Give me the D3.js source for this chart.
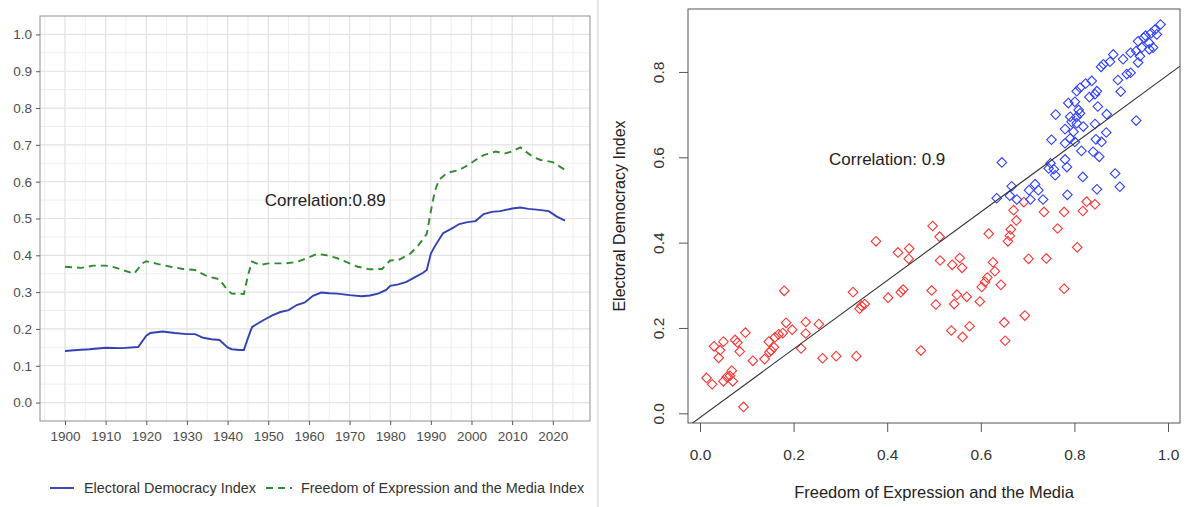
<!DOCTYPE html>
<html>
<head>
<meta charset="utf-8">
<script src="https://cdn.jsdelivr.net/npm/d3@7"></script>
<style>
  body { margin: 0; background: #fff; }
  text { font-family: "Liberation Sans", Arial, sans-serif; }
</style>
</head>
<body>
<div id="chart"></div>
<script>
// ---- Left chart data (V-Dem style world averages) ----
const years = [1900, 1903, 1906, 1910, 1914, 1918, 1920, 1921, 1924, 1927, 1930, 1932, 1934, 1936, 1938,
               1940, 1941, 1943, 1944, 1945, 1946, 1947, 1949, 1951, 1953, 1955, 1957, 1959, 1961, 1963,
               1965, 1967, 1970, 1973, 1975, 1977, 1979, 1980, 1982, 1984, 1986, 1988, 1989, 1990, 1991,
               1993, 1995, 1997, 1999, 2001, 2003, 2005, 2007, 2010, 2012, 2014, 2016, 2019, 2021, 2023];
const electoralDemocracy = [0.140, 0.143, 0.145, 0.149, 0.148, 0.151, 0.182, 0.189, 0.193, 0.189, 0.186, 0.186, 0.176, 0.172, 0.170,
               0.150, 0.145, 0.143, 0.143, 0.175, 0.205, 0.212, 0.225, 0.237, 0.246, 0.251, 0.265, 0.272, 0.290, 0.299,
               0.297, 0.296, 0.292, 0.289, 0.291, 0.296, 0.306, 0.317, 0.321, 0.328, 0.340, 0.352, 0.360, 0.405, 0.425,
               0.460, 0.472, 0.485, 0.490, 0.493, 0.512, 0.518, 0.520, 0.527, 0.530, 0.526, 0.524, 0.520, 0.505, 0.494];

const freeYears = [1900, 1904, 1907, 1910, 1912, 1915, 1917, 1919, 1920, 1923, 1926, 1929, 1932, 1935, 1938,
                   1940, 1941, 1944, 1945, 1946, 1948, 1950, 1954, 1957, 1959, 1962, 1964, 1967, 1970, 1972,
                   1975, 1978, 1980, 1982, 1985, 1987, 1989, 1990, 1991, 1992, 1994, 1997, 1999, 2001, 2003,
                   2006, 2008, 2010, 2012, 2015, 2017, 2020, 2023];
const freedomExpression = [0.369, 0.366, 0.372, 0.372, 0.368, 0.357, 0.350, 0.378, 0.384, 0.376, 0.369, 0.363, 0.360, 0.343, 0.335,
                   0.305, 0.296, 0.295, 0.345, 0.383, 0.374, 0.378, 0.378, 0.382, 0.390, 0.404, 0.401, 0.392, 0.378, 0.369,
                   0.362, 0.363, 0.386, 0.387, 0.405, 0.428, 0.458, 0.520, 0.575, 0.605, 0.624, 0.632, 0.644, 0.659, 0.672,
                   0.682, 0.676, 0.682, 0.693, 0.668, 0.659, 0.653, 0.632];

const yearTicks = [1900, 1910, 1920, 1930, 1940, 1950, 1960, 1970, 1980, 1990, 2000, 2010, 2020];
const indexTicks = [0, 0.1, 0.2, 0.3, 0.4, 0.5, 0.6, 0.7, 0.8, 0.9, 1.0];
const seriesNames = ["Electoral Democracy Index", "Freedom of Expression and the Media Index"];
const leftCorrelation = "Correlation:0.89";

// ---- Right chart data (countries) ----
const redPoints = [
  [0.014, 0.083], [0.026, 0.068], [0.030, 0.157], [0.043, 0.148], [0.040, 0.130], [0.050, 0.168],
  [0.050, 0.075], [0.057, 0.085], [0.064, 0.088], [0.068, 0.100], [0.070, 0.075], [0.075, 0.172],
  [0.080, 0.166], [0.085, 0.145], [0.093, 0.015], [0.097, 0.189], [0.113, 0.123], [0.138, 0.127],
  [0.147, 0.168], [0.148, 0.143], [0.152, 0.147], [0.158, 0.155], [0.160, 0.178], [0.168, 0.185],
  [0.177, 0.188], [0.184, 0.212], [0.180, 0.287], [0.197, 0.196], [0.216, 0.152], [0.226, 0.187],
  [0.226, 0.214], [0.254, 0.209], [0.262, 0.129], [0.291, 0.134], [0.334, 0.134], [0.327, 0.284],
  [0.341, 0.245], [0.345, 0.252], [0.352, 0.256], [0.376, 0.403], [0.402, 0.271], [0.423, 0.377],
  [0.429, 0.284], [0.434, 0.290], [0.447, 0.386], [0.446, 0.362], [0.472, 0.147], [0.497, 0.439],
  [0.495, 0.288], [0.504, 0.255], [0.512, 0.414], [0.513, 0.358], [0.537, 0.194], [0.539, 0.348],
  [0.543, 0.256], [0.549, 0.278], [0.555, 0.364], [0.560, 0.341], [0.561, 0.179], [0.570, 0.273],
  [0.576, 0.204], [0.598, 0.262], [0.602, 0.296], [0.609, 0.308], [0.614, 0.318], [0.617, 0.421],
  [0.626, 0.354], [0.630, 0.333], [0.643, 0.301], [0.650, 0.213], [0.652, 0.170], [0.658, 0.403],
  [0.662, 0.416], [0.664, 0.431], [0.670, 0.476], [0.676, 0.452], [0.692, 0.495], [0.694, 0.229],
  [0.702, 0.362], [0.735, 0.472], [0.740, 0.363], [0.764, 0.433], [0.778, 0.472], [0.778, 0.292],
  [0.806, 0.389], [0.818, 0.474], [0.826, 0.496], [0.844, 0.490]
];
const bluePoints = [
  [0.634, 0.504], [0.645, 0.588], [0.662, 0.510], [0.666, 0.532], [0.677, 0.501], [0.703, 0.523],
  [0.706, 0.501], [0.716, 0.537], [0.723, 0.523], [0.733, 0.501], [0.749, 0.586], [0.745, 0.574],
  [0.756, 0.572], [0.759, 0.558], [0.751, 0.641], [0.760, 0.700], [0.780, 0.666], [0.780, 0.633],
  [0.780, 0.595], [0.784, 0.577], [0.785, 0.512], [0.787, 0.727], [0.791, 0.695], [0.791, 0.644],
  [0.794, 0.683], [0.798, 0.660], [0.801, 0.730], [0.801, 0.636], [0.805, 0.755], [0.805, 0.695],
  [0.805, 0.680], [0.809, 0.711], [0.812, 0.763], [0.812, 0.703], [0.815, 0.615], [0.818, 0.554],
  [0.819, 0.672], [0.824, 0.773], [0.832, 0.741], [0.837, 0.779], [0.840, 0.613], [0.844, 0.748],
  [0.844, 0.678], [0.846, 0.642], [0.848, 0.755], [0.848, 0.525], [0.850, 0.719], [0.853, 0.601],
  [0.857, 0.812], [0.858, 0.636], [0.862, 0.818], [0.868, 0.658], [0.869, 0.701], [0.876, 0.824],
  [0.883, 0.841], [0.887, 0.562], [0.893, 0.781], [0.897, 0.531], [0.899, 0.754], [0.904, 0.830],
  [0.912, 0.795], [0.920, 0.845], [0.920, 0.798], [0.932, 0.849], [0.932, 0.686], [0.936, 0.872],
  [0.936, 0.822], [0.940, 0.837], [0.944, 0.857], [0.948, 0.880], [0.952, 0.885], [0.960, 0.868],
  [0.960, 0.853], [0.964, 0.891], [0.968, 0.857], [0.972, 0.899], [0.976, 0.888], [0.984, 0.911]
];
const fitIntercept = -0.010;
const fitSlope = 0.803;
const scatterXTicks = [0, 0.2, 0.4, 0.6, 0.8, 1.0];
const scatterYTicks = [0, 0.2, 0.4, 0.6, 0.8];
const rightCorrelation = "Correlation: 0.9";
const xTitle = "Freedom of Expression and the Media";
const yTitle = "Electoral Democracy Index";

const svg = d3.select("#chart").append("svg")
    .attr("width", 1188)
    .attr("height", 507);

// =================== LEFT: line chart ===================
const L = { left: 40, right: 590, top: 16, bottom: 421 };

const x = d3.scaleLinear().domain([1893.85, 2029.15]).range([L.left, L.right]);
const y = d3.scaleLinear().domain([-0.05, 1.05]).range([L.bottom, L.top]);

const left = svg.append("g");

// minor grid
left.selectAll(".vminor").data(d3.range(1895, 2030, 10)).enter().append("line")
    .attr("x1", d => x(d)).attr("x2", d => x(d))
    .attr("y1", L.top).attr("y2", L.bottom)
    .attr("stroke", "#efefef").attr("stroke-width", 1);
left.selectAll(".hminor").data(d3.range(0.05, 1.0, 0.1)).enter().append("line")
    .attr("x1", L.left).attr("x2", L.right)
    .attr("y1", d => y(d)).attr("y2", d => y(d))
    .attr("stroke", "#efefef").attr("stroke-width", 1);
// major grid
left.selectAll(".vmajor").data(yearTicks).enter().append("line")
    .attr("x1", d => x(d)).attr("x2", d => x(d))
    .attr("y1", L.top).attr("y2", L.bottom)
    .attr("stroke", "#e2e2e2").attr("stroke-width", 1.2);
left.selectAll(".hmajor").data(indexTicks).enter().append("line")
    .attr("x1", L.left).attr("x2", L.right)
    .attr("y1", d => y(d)).attr("y2", d => y(d))
    .attr("stroke", "#e2e2e2").attr("stroke-width", 1.2);

// panel border
left.append("rect")
    .attr("x", L.left).attr("y", L.top)
    .attr("width", L.right - L.left).attr("height", L.bottom - L.top)
    .attr("fill", "none").attr("stroke", "#8f8f8f").attr("stroke-width", 1);

// axes
const xAxisL = left.append("g")
    .attr("transform", "translate(0," + L.bottom + ")")
    .call(d3.axisBottom(x).tickValues(yearTicks).tickFormat(d3.format("d")).tickSize(4).tickPadding(6));
const yAxisL = left.append("g")
    .attr("transform", "translate(" + L.left + ",0)")
    .call(d3.axisLeft(y).tickValues(indexTicks).tickFormat(d3.format(".1f")).tickSize(4).tickPadding(4));
[xAxisL, yAxisL].forEach(g => {
    g.select(".domain").remove();
    g.selectAll(".tick line").attr("stroke", "#555");
    g.selectAll(".tick text").attr("fill", "#4d4d4d").style("font-size", "13.5px");
});

// lines
const edLine = d3.line()
    .x((d, i) => x(years[i]))
    .y(d => y(d));
const feLine = d3.line()
    .x((d, i) => x(freeYears[i]))
    .y(d => y(d));

left.append("path")
    .attr("d", feLine(freedomExpression))
    .attr("fill", "none")
    .attr("stroke", "#2e8b2e")
    .attr("stroke-width", 1.9)
    .attr("stroke-dasharray", "7,5");

left.append("path")
    .attr("d", edLine(electoralDemocracy))
    .attr("fill", "none")
    .attr("stroke", "#3341b3")
    .attr("stroke-width", 1.9);

left.append("text")
    .attr("x", x(1964)).attr("y", y(0.55))
    .attr("dy", "0.35em")
    .attr("text-anchor", "middle")
    .attr("fill", "#222")
    .style("font-size", "17px")
    .text(leftCorrelation);

// legend
const legend = left.append("g").attr("transform", "translate(0,488)");
legend.append("line")
    .attr("x1", 50).attr("x2", 74).attr("y1", 0).attr("y2", 0)
    .attr("stroke", "#3341b3").attr("stroke-width", 1.9);
legend.append("text")
    .attr("x", 84).attr("dy", "0.35em")
    .attr("fill", "#333").style("font-size", "14.4px")
    .text(seriesNames[0]);
legend.append("line")
    .attr("x1", 266).attr("x2", 292).attr("y1", 0).attr("y2", 0)
    .attr("stroke", "#2e8b2e").attr("stroke-width", 1.9)
    .attr("stroke-dasharray", "7,5");
legend.append("text")
    .attr("x", 301).attr("dy", "0.35em")
    .attr("fill", "#333").style("font-size", "14.4px")
    .text(seriesNames[1]);

// divider between the two panels
svg.append("line")
    .attr("x1", 598).attr("x2", 598).attr("y1", 0).attr("y2", 507)
    .attr("stroke", "#d0d0d0").attr("stroke-width", 1);

// =================== RIGHT: scatter ===================
const R = { left: 688, right: 1180, top: 9, bottom: 423 };
const sx = d3.scaleLinear().domain([-0.0256, 1.0256]).range([R.left, R.right]);
const sy = d3.scaleLinear().domain([-0.0227, 0.9475]).range([R.bottom, R.top]);

const right = svg.append("g");

right.append("clipPath").attr("id", "plotclip")
    .append("rect")
    .attr("x", R.left).attr("y", R.top)
    .attr("width", R.right - R.left).attr("height", R.bottom - R.top);

// points
const diamond = d3.symbol().type(d3.symbolSquare).size(46);
right.selectAll(".red").data(redPoints).enter().append("path")
    .attr("d", diamond)
    .attr("transform", d => `translate(${sx(d[0])},${sy(d[1])}) rotate(45)`)
    .attr("fill", "none")
    .attr("stroke", "#ff3535")
    .attr("stroke-width", 1.1);
right.selectAll(".blue").data(bluePoints).enter().append("path")
    .attr("d", diamond)
    .attr("transform", d => `translate(${sx(d[0])},${sy(d[1])}) rotate(45)`)
    .attr("fill", "none")
    .attr("stroke", "#3040ff")
    .attr("stroke-width", 1.1);

// regression line
const fitX = sx.domain();
right.append("line")
    .attr("clip-path", "url(#plotclip)")
    .attr("x1", sx(fitX[0])).attr("y1", sy(fitIntercept + fitSlope * fitX[0]))
    .attr("x2", sx(fitX[1])).attr("y2", sy(fitIntercept + fitSlope * fitX[1]))
    .attr("stroke", "#333").attr("stroke-width", 1.1);

// box
right.append("rect")
    .attr("x", R.left).attr("y", R.top)
    .attr("width", R.right - R.left).attr("height", R.bottom - R.top)
    .attr("fill", "none").attr("stroke", "#555").attr("stroke-width", 1);

// axes
const xAxisR = right.append("g")
    .attr("transform", "translate(0," + R.bottom + ")")
    .call(d3.axisBottom(sx).tickValues(scatterXTicks).tickFormat(d3.format(".1f")).tickSize(9).tickPadding(17));
const yAxisR = right.append("g")
    .attr("transform", "translate(" + R.left + ",0)")
    .call(d3.axisLeft(sy).tickValues(scatterYTicks).tickFormat(d3.format(".1f")).tickSize(9));
[xAxisR, yAxisR].forEach(g => {
    g.select(".domain").remove();
    g.selectAll(".tick line").attr("stroke", "#555");
    g.selectAll(".tick text").attr("fill", "#333").style("font-size", "15.5px");
});
yAxisR.selectAll(".tick text")
    .attr("x", null)
    .attr("dy", "0.35em")
    .attr("text-anchor", "middle")
    .attr("transform", "translate(-29,0) rotate(-90)");

// titles
right.append("text")
    .attr("x", (R.left + R.right) / 2).attr("y", 498)
    .attr("text-anchor", "middle")
    .attr("fill", "#222").style("font-size", "16.5px")
    .text(xTitle);
right.append("text")
    .attr("transform", `translate(619,${(R.top + R.bottom) / 2}) rotate(-90)`)
    .attr("dy", "0.35em")
    .attr("text-anchor", "middle")
    .attr("fill", "#222").style("font-size", "16px")
    .text(yTitle);

right.append("text")
    .attr("x", sx(0.40)).attr("y", sy(0.597))
    .attr("dy", "0.35em")
    .attr("text-anchor", "middle")
    .attr("fill", "#222").style("font-size", "17px")
    .text(rightCorrelation);
</script>
</body>
</html>
